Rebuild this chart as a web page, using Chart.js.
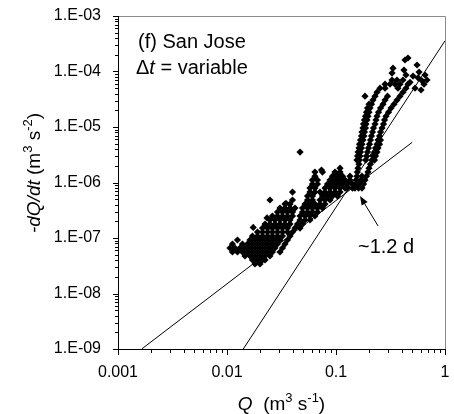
<!DOCTYPE html>
<html lang="en">
<head>
<meta charset="UTF-8">
<title>San Jose recession plot</title>
<style>
  html, body { margin: 0; padding: 0; background: #fff; }
  #wrap { width: 454px; height: 414px; }
</style>
</head>
<body>
<div id="wrap"><canvas id="recessionChart" width="454" height="414"></canvas></div>
<script src="https://cdn.jsdelivr.net/npm/chart.js"></script>
<script>
// tick positions and labels
const qTicks = [0.001, 0.002, 0.003, 0.004, 0.005, 0.006, 0.007, 0.008, 0.009,
                0.01, 0.02, 0.03, 0.04, 0.05, 0.06, 0.07, 0.08, 0.09,
                0.1, 0.2, 0.3, 0.4, 0.5, 0.6, 0.7, 0.8, 0.9, 1];
const qTickLabels = ['0.001', '0.01', '0.1', '1'];
const rateTicks = [1e-9, 2e-9, 3e-9, 4e-9, 5e-9, 6e-9, 7e-9, 8e-9, 9e-9,
                   1e-8, 2e-8, 3e-8, 4e-8, 5e-8, 6e-8, 7e-8, 8e-8, 9e-8,
                   1e-7, 2e-7, 3e-7, 4e-7, 5e-7, 6e-7, 7e-7, 8e-7, 9e-7,
                   1e-6, 2e-6, 3e-6, 4e-6, 5e-6, 6e-6, 7e-6, 8e-6, 9e-6,
                   1e-5, 2e-5, 3e-5, 4e-5, 5e-5, 6e-5, 7e-5, 8e-5, 9e-5,
                   1e-4, 2e-4, 3e-4, 4e-4, 5e-4, 6e-4, 7e-4, 8e-4, 9e-4, 1e-3];
const rateTickLabels = ['1.E-09', '1.E-08', '1.E-07', '1.E-06', '1.E-05', '1.E-04', '1.E-03'];

// scatter, one row per -dQ/dt level: [rate, [Q values]]
const lowBand = [
  [3.40e-8, [0.01807, 0.02009]],
  [4.02e-8, [0.01713, 0.01905, 0.02118, 0.02233]],
  [4.74e-8, [0.01462, 0.01625, 0.01807, 0.02009, 0.02233, 0.02478]],
  [5.60e-8, [0.01122, 0.01247, 0.01386, 0.01541, 0.01713, 0.01905, 0.02118, 0.02354, 0.02612, 0.03062]],
  [6.60e-8, [0.01065, 0.01183, 0.01315, 0.01462, 0.01625, 0.01807, 0.02009, 0.02233, 0.02478, 0.02754, 0.03228]],
  [7.79e-8, [0.01122, 0.01386, 0.01541, 0.01713, 0.01905, 0.02118, 0.02354, 0.02612, 0.02904, 0.03404]],
  [9.20e-8, [0.01247, 0.01625, 0.01807, 0.02009, 0.02233, 0.02478, 0.02754, 0.03062, 0.03588]],
  [1.085e-7, [0.01713, 0.01905, 0.02118, 0.02354, 0.02612, 0.02904, 0.03228, 0.03784]],
  [1.28e-7, [0.01905, 0.02118, 0.02354, 0.02612, 0.02904, 0.03228, 0.03588, 0.03989]],
  [1.51e-7, [0.02118, 0.02354, 0.02612, 0.02904, 0.03228, 0.03588, 0.04207, 0.04677]],
  [1.78e-7, [0.02233, 0.02478, 0.02754, 0.03062, 0.03404, 0.03784, 0.04435, 0.0493]],
  [2.11e-7, [0.02478, 0.02754, 0.03062, 0.03404, 0.03784, 0.04677, 0.0520, 0.0577]],
  [2.49e-7, [0.02612, 0.02904, 0.03228, 0.03588, 0.03989, 0.04677, 0.0520, 0.0577, 0.0641]],
  [2.93e-7, [0.02904, 0.03228, 0.03588, 0.03989, 0.0493, 0.0548, 0.0608, 0.0676]],
  [3.46e-7, [0.03062, 0.03404, 0.03784, 0.04207, 0.0493, 0.0548, 0.0608, 0.0676, 0.0752]],
  [4.08e-7, [0.03404, 0.03784, 0.0520, 0.0577, 0.0641, 0.0713, 0.0793]]
];
const midBand = [
  [4.84e-7, [0.02478, 0.03989, 0.0548, 0.0608, 0.0713, 0.0793, 0.0881]],
  [5.70e-7, [0.0548, 0.0608, 0.0752, 0.0836, 0.0929, 0.1032]],
  [6.72e-7, [0.03989, 0.0577, 0.0641, 0.0713, 0.0793, 0.0881, 0.0979, 0.1089]],
  [7.93e-7, [0.0577, 0.0641, 0.0793, 0.0881, 0.0979, 0.1089, 0.1211, 0.1276, 0.1416, 0.1493, 0.161, 0.1731]],
  [9.36e-7, [0.0608, 0.0676, 0.0836, 0.0929, 0.1032, 0.1148, 0.1276, 0.1416, 0.151, 0.164, 0.179]],
  [1.105e-6, [0.0608, 0.0676, 0.0881, 0.0979, 0.1089, 0.1211, 0.1343, 0.154, 0.1695, 0.1845]],
  [1.30e-6, [0.0641, 0.0929, 0.1032, 0.1148, 0.1343, 0.1557, 0.173, 0.190]],
  [1.54e-6, [0.0641, 0.0752, 0.0979, 0.1089, 0.157, 0.1965]],
  [1.81e-6, [0.1089, 0.159, 0.2007]]
];
const highBand = [
  [2.14e-6, [0.1624, 0.207]],
  [2.54e-6, [0.1556, 0.164, 0.1874, 0.2139, 0.2255]],
  [2.99e-6, [0.1575, 0.166, 0.1904, 0.2185, 0.2303]],
  [3.53e-6, [0.1594, 0.168, 0.1945, 0.2255, 0.2377]],
  [4.17e-6, [0.1625, 0.1713, 0.1986, 0.2304, 0.2429]],
  [4.91e-6, [0.1642, 0.1731, 0.2029, 0.2378, 0.2507]],
  [5.83e-6, [0.1677, 0.1768, 0.2072, 0.2429, 0.2561]],
  [6.88e-6, [0.1713, 0.1806, 0.2117, 0.2508]],
  [8.10e-6, [0.1731, 0.1825, 0.2162, 0.2562]],
  [9.56e-6, [0.1768, 0.1864, 0.2208, 0.2644]],
  [1.13e-5, [0.1787, 0.1884, 0.228, 0.2729]],
  [1.34e-5, [0.1825, 0.1924, 0.2328, 0.2788]],
  [1.57e-5, [0.1864, 0.1965, 0.2378, 0.2878]],
  [1.85e-5, [0.1904, 0.2007, 0.2455, 0.3034]],
  [2.19e-5, [0.1946, 0.2051, 0.2562, 0.3197]],
  [2.58e-5, [0.2008, 0.2117, 0.27, 0.3406]],
  [3.06e-5, [0.2185, 0.2818, 0.3627]],
  [3.60e-5, [0.1845, 0.228, 0.297, 0.3863]],
  [4.24e-5, [0.2378, 0.4116]],
  [5.00e-5, [0.2535, 0.2818, 0.3704, 0.4386]],
  [5.90e-5, [0.2818, 0.313, 0.3475, 0.3863, 0.4575]],
  [7.03e-5, [0.3266, 0.3627]]
];
// loose single points: [Q, -dQ/dt]
const loosePoints = [
  [0.0174, 1.55e-7], [0.0233, 2.3e-7], [0.0348, 4.2e-7], [0.0468, 3.53e-6], [0.0736, 1.68e-6],
  [0.3335, 1.15e-4], [0.3266, 9.35e-5], [0.4295, 1.61e-4], [0.4575, 1.75e-4], [0.554, 1.31e-4],
  [0.4204, 1.06e-4], [0.4386, 8.65e-5], [0.4116, 7.03e-5], [0.509, 8.27e-5], [0.566, 7.7e-5],
  [0.616, 6.8e-5], [0.642, 5.9e-5], [0.603, 4.64e-5], [0.5309, 5.0e-5], [0.4775, 6.4e-5],
  [0.684, 7.03e-5], [0.656, 8.65e-5], [0.578, 9.75e-5]
];

// the two fitted power laws (slope 1.5 and slope 3), end points
const shallowLine = [[0.00165, 1e-9], [0.5, 5.3e-6]];
const steepLine = [[0.0141, 1e-9], [1, 3.57e-4]];

// arrow "~1.2 d": tail, tip, label anchor
const arrowTail = [0.243, 1.65e-7];
const arrowTip = [0.166, 5.7e-7];
const arrowLabelAt = [0.159, 5.37e-8];

const FONT = '"Liberation Sans", Arial, sans-serif';

function rowsToPoints(rows) {
  return rows.flatMap(([rate, qs]) => qs.map(q => ({ x: q, y: rate })));
}
const scatterData = rowsToPoints(lowBand)
  .concat(rowsToPoints(midBand))
  .concat(rowsToPoints(highBand))
  .concat(loosePoints.map(([q, r]) => ({ x: q, y: r })));

const isDecade = v => Math.abs(Math.log10(v) - Math.round(Math.log10(v))) < 1e-6;

function partsWidth(ctx, parts, size) {
  let w = 0;
  parts.forEach(p => {
    const fs = p.sup ? Math.round(size * 0.68) : size;
    ctx.font = (p.it ? 'italic ' : '') + fs + 'px ' + FONT;
    w += ctx.measureText(p.t).width;
  });
  return w;
}
function drawParts(ctx, parts, size, x, y) {
  let cx = x;
  parts.forEach(p => {
    const fs = p.sup ? Math.round(size * 0.68) : size;
    ctx.font = (p.it ? 'italic ' : '') + fs + 'px ' + FONT;
    ctx.fillText(p.t, cx, p.sup ? y - size * 0.4 : y);
    cx += ctx.measureText(p.t).width;
  });
}

const yTitle = [{ t: '-dQ/dt', it: true }, { t: ' (m' }, { t: '3', sup: true }, { t: ' s' }, { t: '-2', sup: true }, { t: ')' }];
const xTitle = [{ t: 'Q', it: true }, { t: '  (m' }, { t: '3', sup: true }, { t: ' s' }, { t: '-1', sup: true }, { t: ')' }];
const deltaLine = [{ t: '\u0394' }, { t: 't', it: true }, { t: ' = variable' }];

const decorations = {
  id: 'decorations',
  afterDraw(chart) {
    const { ctx, chartArea: a, scales: { x, y } } = chart;
    ctx.save();
    // frame: light top/right, black axes
    ctx.lineWidth = 1;
    ctx.strokeStyle = '#8a8a8a';
    ctx.beginPath();
    ctx.moveTo(a.left, a.top + 0.5);
    ctx.lineTo(a.right + 0.5, a.top + 0.5);
    ctx.lineTo(a.right + 0.5, a.bottom);
    ctx.stroke();

    ctx.strokeStyle = '#000';
    ctx.beginPath();
    ctx.moveTo(a.left + 0.5, a.top);
    ctx.lineTo(a.left + 0.5, a.bottom + 0.5);
    ctx.lineTo(a.right + 1, a.bottom + 0.5);
    qTicks.forEach(v => {
      const px = Math.round(x.getPixelForValue(v)) + 0.5;
      ctx.moveTo(px, a.bottom);
      ctx.lineTo(px, a.bottom + (isDecade(v) ? 6 : 4));
    });
    rateTicks.forEach(v => {
      const py = Math.round(y.getPixelForValue(v)) + 0.5;
      ctx.moveTo(a.left + 1, py);
      ctx.lineTo(a.left + 1 - (isDecade(v) ? 6 : 4), py);
    });
    ctx.stroke();

    ctx.fillStyle = '#000';
    ctx.textBaseline = 'alphabetic';
    ctx.textAlign = 'left';

    // panel labels
    ctx.font = '20px ' + FONT;
    ctx.fillText('(f) San Jose', a.left + 20, a.top + 32);
    drawParts(ctx, deltaLine, 20, a.left + 18, a.top + 58);

    // arrow to the break in slope
    const tx = x.getPixelForValue(arrowTail[0]), ty = y.getPixelForValue(arrowTail[1]);
    const hx = x.getPixelForValue(arrowTip[0]), hy = y.getPixelForValue(arrowTip[1]);
    const ang = Math.atan2(hy - ty, hx - tx);
    ctx.beginPath();
    ctx.moveTo(tx, ty);
    ctx.lineTo(hx - 7 * Math.cos(ang), hy - 7 * Math.sin(ang));
    ctx.stroke();
    ctx.beginPath();
    ctx.moveTo(hx, hy);
    ctx.lineTo(hx - 9 * Math.cos(ang) + 3.5 * Math.sin(ang), hy - 9 * Math.sin(ang) - 3.5 * Math.cos(ang));
    ctx.lineTo(hx - 9 * Math.cos(ang) - 3.5 * Math.sin(ang), hy - 9 * Math.sin(ang) + 3.5 * Math.cos(ang));
    ctx.closePath();
    ctx.fill();
    ctx.font = '20px ' + FONT;
    ctx.fillText('~1.2 d', x.getPixelForValue(arrowLabelAt[0]), y.getPixelForValue(arrowLabelAt[1]));

    // axis titles
    const xw = partsWidth(ctx, xTitle, 19);
    drawParts(ctx, xTitle, 19, (a.left + a.right) / 2 - xw / 2, 410);

    ctx.translate(33, 173);
    ctx.rotate(-Math.PI / 2);
    const yw = partsWidth(ctx, yTitle, 19);
    drawParts(ctx, yTitle, 19, -yw / 2, 7);
    ctx.restore();
  }
};

const chart = new Chart(document.getElementById('recessionChart'), {
  type: 'scatter',
  data: {
    datasets: [
      {
        label: 'recession data',
        data: scatterData,
        pointStyle: 'rectRot',
        pointRadius: 3.6,
        backgroundColor: '#000',
        borderWidth: 0
      },
      {
        label: 'slope 1.5',
        data: shallowLine.map(([q, r]) => ({ x: q, y: r })),
        showLine: true,
        pointRadius: 0,
        borderColor: '#000',
        borderWidth: 1
      },
      {
        label: 'slope 3',
        data: steepLine.map(([q, r]) => ({ x: q, y: r })),
        showLine: true,
        pointRadius: 0,
        borderColor: '#000',
        borderWidth: 1
      }
    ]
  },
  options: {
    responsive: false,
    animation: false,
    events: [],
    layout: { padding: { top: 16, right: 9, left: 0, bottom: 0 } },
    plugins: { legend: { display: false }, tooltip: { enabled: false } },
    scales: {
      x: {
        type: 'logarithmic',
        min: 0.001,
        max: 1,
        afterBuildTicks: s => { s.ticks = qTicks.map(v => ({ value: v })); },
        afterFit: s => { s.height = 65; s.paddingLeft = 0; s.paddingRight = 0; },
        grid: { display: false, drawTicks: false },
        border: { display: false },
        ticks: {
          autoSkip: false,
          maxRotation: 0,
          padding: 14,
          color: '#000',
          font: { family: FONT, size: 16 },
          callback: v => isDecade(v) ? qTickLabels[Math.round(Math.log10(v)) + 3] : ''
        }
      },
      y: {
        type: 'logarithmic',
        min: 1e-9,
        max: 1e-3,
        afterBuildTicks: s => { s.ticks = rateTicks.map(v => ({ value: v })); },
        afterFit: s => { s.width = 118; s.paddingTop = 0; s.paddingBottom = 0; },
        grid: { display: false, drawTicks: false },
        border: { display: false },
        ticks: {
          autoSkip: false,
          padding: 17,
          color: '#000',
          font: { family: FONT, size: 16 },
          callback: v => isDecade(v) ? rateTickLabels[Math.round(Math.log10(v)) + 9] : ''
        }
      }
    }
  },
  plugins: [decorations]
});
</script>
</body>
</html>
